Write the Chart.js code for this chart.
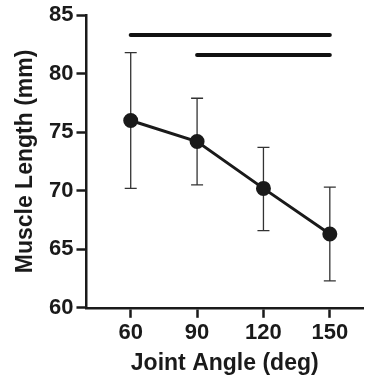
<!DOCTYPE html>
<html>
<head>
<meta charset="utf-8">
<script src="https://cdn.jsdelivr.net/npm/chart.js@4"></script>
<style>
  html, body { margin: 0; padding: 0; background: #fff; }
  #wrap { width: 372px; height: 375px; }
</style>
</head>
<body>
<div id="wrap"><canvas id="grafico"></canvas></div>
<script>
// Datos
const angles = [60, 90, 120, 150];
const meanLength = [76.0, 74.2, 70.2, 66.3];
const upperErr = [81.8, 77.9, 73.7, 70.3];
const lowerErr = [70.2, 70.5, 66.6, 62.3];
const yTicks = [60, 65, 70, 75, 80, 85];

// Barras de significancia (inicio, fin, altura)
const sigStart = [60, 90];
const sigEnd = [150, 150];
const sigLevel = [83.3, 81.6];

// Plugin para dibujar las barras de error
const errorBars = {
  id: 'errorBars',
  beforeDatasetsDraw(chart) {
    const ctx = chart.ctx;
    const x = chart.scales.x, y = chart.scales.y;
    ctx.save();
    ctx.strokeStyle = '#333';
    ctx.lineWidth = 1.3;
    angles.forEach((a, i) => {
      const px = x.getPixelForValue(a);
      const top = y.getPixelForValue(upperErr[i]);
      const bot = y.getPixelForValue(lowerErr[i]);
      ctx.beginPath();
      ctx.moveTo(px, top); ctx.lineTo(px, bot);
      ctx.moveTo(px - 6, top); ctx.lineTo(px + 6, top);
      ctx.moveTo(px - 6, bot); ctx.lineTo(px + 6, bot);
      ctx.stroke();
    });
    ctx.restore();
  }
};

const sigDatasets = sigStart.map((s, i) => ({
  data: [{x: s, y: sigLevel[i]}, {x: sigEnd[i], y: sigLevel[i]}],
  borderColor: '#111',
  borderWidth: 4,
  borderCapStyle: 'round',
  pointRadius: 0,
  fill: false
}));

const fuente = { family: 'Liberation Sans', weight: 'bold', size: 22, lineHeight: 1.1 };
const fuenteTitulo = { family: 'Liberation Sans', weight: 'bold', size: 23, lineHeight: 1.0 };

new Chart(document.getElementById('grafico'), {
  type: 'line',
  data: {
    datasets: [{
      data: angles.map((a, i) => ({x: a, y: meanLength[i]})),
      borderColor: '#1a1a1a',
      borderWidth: 3,
      pointRadius: 6,
      pointBackgroundColor: '#1a1a1a',
      pointBorderColor: '#1a1a1a',
      fill: false
    }, ...sigDatasets]
  },
  options: {
    responsive: true,
    maintainAspectRatio: false,
    animation: false,
    layout: { padding: { top: 10, right: 0, left: 14, bottom: 0 } },
    plugins: { legend: { display: false }, tooltip: { enabled: false } },
    scales: {
      x: {
        type: 'linear',
        min: 40,
        max: 165,
        afterBuildTicks: axis => { axis.ticks = angles.map(v => ({value: v})); },
        grid: { drawOnChartArea: false, drawTicks: true, tickLength: 10, tickWidth: 2.5, tickColor: '#1a1a1a' },
        border: { color: '#1a1a1a', width: 2.5 },
        ticks: { color: '#1a1a1a', padding: 3, font: fuente },
        title: { display: true, text: 'Joint Angle (deg)', color: '#1a1a1a', padding: { top: 4, bottom: 0 },
                 font: fuenteTitulo }
      },
      y: {
        min: 60,
        max: 85,
        afterBuildTicks: axis => { axis.ticks = yTicks.map(v => ({value: v})); },
        grid: { drawOnChartArea: false, drawTicks: true, tickLength: 10, tickWidth: 2.5, tickColor: '#1a1a1a' },
        border: { color: '#1a1a1a', width: 2.5 },
        ticks: { color: '#1a1a1a', padding: 3, font: fuente },
        title: { display: true, text: 'Muscle Length (mm)', color: '#1a1a1a', padding: { top: 0, bottom: 9 },
                 font: fuenteTitulo }
      }
    }
  },
  plugins: [errorBars]
});
</script>
</body>
</html>
